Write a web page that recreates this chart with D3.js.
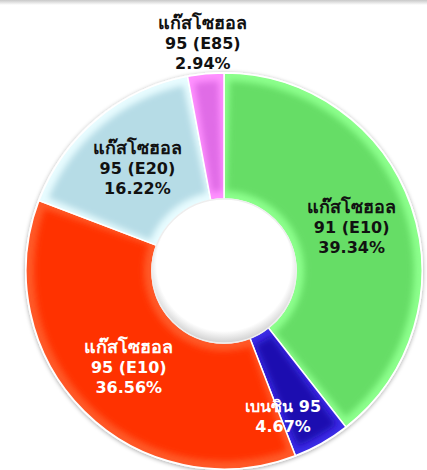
<!DOCTYPE html>
<html>
<head>
<meta charset="utf-8">
<script src="https://cdn.jsdelivr.net/npm/d3@7"></script>
<style>
body{margin:0;background:#fff;}
svg{display:block;}
.lbl{font-family:"DejaVu Sans",Verdana,sans-serif;font-weight:bold;font-size:16px;}
.th{font-size:18px;}
</style>
</head>
<body>
<div id="chart"></div>
<script>
// fuel share
var names = ["แก๊สโซฮอล\n91 (E10)", "เบนซิน 95", "แก๊สโซฮอล\n95 (E10)", "แก๊สโซฮอล\n95 (E20)", "แก๊สโซฮอล\n95 (E85)"];
var shares = [39.34, 4.67, 36.56, 16.22, 2.94];
var colors = ["#66dd66", "#1c0cb0", "#ff3300", "#b6dce6", "#e06ce6"];
var edgeColors = ["#8cff8c", "#3c2ce6", "#ff5a28", "#e8fcff", "#ff90ff"];
var textColors = ["#111", "#fff", "#fff", "#111", "#111"];

var width = 427, height = 470;
var cx = 224, cy = 271, outerR = 198, innerR = 72;

var data = shares.map(function(v, i){
	return {name: names[i], value: v, color: colors[i], edge: edgeColors[i], text: textColors[i]};
});

var svg = d3.select("#chart").append("svg")
	.attr("width", width)
	.attr("height", height);

var defs = svg.append("defs");
var topGrad = defs.append("linearGradient").attr("id", "topShade")
	.attr("x1", 0).attr("y1", 0).attr("x2", 0).attr("y2", 1);
topGrad.append("stop").attr("offset", 0).attr("stop-color", "#c8c8c8");
topGrad.append("stop").attr("offset", 1).attr("stop-color", "#fff");

var sh = defs.append("filter").attr("id", "shadow")
	.attr("x", "-10%").attr("y", "-10%").attr("width", "120%").attr("height", "120%");
sh.append("feDropShadow").attr("dx", 0).attr("dy", 1).attr("stdDeviation", 2)
	.attr("flood-color", "#000").attr("flood-opacity", 0.35);

defs.append("filter").attr("id", "soft")
	.append("feGaussianBlur").attr("stdDeviation", 3);

svg.append("rect").attr("x", 0).attr("y", 0).attr("width", width).attr("height", 5)
	.attr("fill", "url(#topShade)");

var pie = d3.pie().sort(null).value(function(d){ return d.value; });
var arcs = pie(data);

var arc = d3.arc().innerRadius(innerR).outerRadius(outerR);
var arcIn = d3.arc().innerRadius(innerR + 8).outerRadius(outerR - 8);
var labelArc = d3.arc().innerRadius(innerR).outerRadius(outerR);

var g = svg.append("g").attr("transform", "translate(" + cx + "," + cy + ")");

// white ring with shadow behind the slices
g.append("circle").attr("r", outerR + 1).attr("fill", "#fff").attr("filter", "url(#shadow)");

arcs.forEach(function(d, i){
	defs.append("clipPath").attr("id", "clip" + i)
		.append("path").attr("d", arc(d));
});

var slices = g.selectAll("g.slice").data(arcs).enter().append("g").attr("class", "slice");

slices.append("path")
	.attr("d", arc)
	.attr("fill", function(d){ return d.data.edge; });

slices.append("g")
	.attr("clip-path", function(d, i){ return "url(#clip" + i + ")"; })
	.append("path")
	.attr("d", function(d){
		var a = Object.assign({}, d);
		var pad = Math.min(0.03, (d.endAngle - d.startAngle) / 4);
		a.startAngle = d.startAngle + pad;
		a.endAngle = d.endAngle - pad;
		return arcIn(a);
	})
	.attr("fill", function(d){ return d.data.color; })
	.attr("filter", "url(#soft)");

slices.append("path")
	.attr("d", arc)
	.attr("fill", "none")
	.attr("stroke", "#fff")
	.attr("stroke-width", 1.5);

// hole with inner shade
var hole = defs.append("radialGradient").attr("id", "holeShade")
	.attr("cx", "50%").attr("cy", "45%").attr("r", "55%");
hole.append("stop").attr("offset", "0.85").attr("stop-color", "#fff");
hole.append("stop").attr("offset", "1").attr("stop-color", "#d0d0d0");
g.append("circle").attr("r", innerR).attr("fill", "url(#holeShade)")
	.attr("stroke", "#eee").attr("stroke-width", 1.5);

// labels
var lines = 20;
var thai = /[\u0E00-\u0E7F]/;
arcs.forEach(function(d){
	var pct = d3.format(".2f")(d.data.value) + "%";
	var txt = d.data.name.split("\n").concat([pct]);
	var pos, frac = (d.endAngle - d.startAngle) / (2 * Math.PI);
	if (frac < 0.035) {
		// outside, above the slice
		var mid = (d.startAngle + d.endAngle) / 2;
		pos = [Math.sin(mid) * 229, -Math.cos(mid) * 229];
	} else if (frac < 0.06) {
		var m2 = (d.startAngle + d.endAngle) / 2 + 0.13;
		pos = [Math.sin(m2) * 157, -Math.cos(m2) * 157];
	} else {
		pos = labelArc.centroid(d);
	}
	var t = g.append("text").attr("class", "lbl")
		.attr("text-anchor", "middle")
		.attr("fill", d.data.text)
		.attr("x", pos[0])
		.attr("y", pos[1] - (txt.length - 1) / 2 * lines);
	txt.forEach(function(s, k){
		t.append("tspan").attr("x", pos[0]).attr("dy", k === 0 ? "0.35em" : lines)
			.attr("class", thai.test(s) && s.indexOf("95") < 0 ? "th" : null)
			.text(s);
	});
});
</script>
</body>
</html>
